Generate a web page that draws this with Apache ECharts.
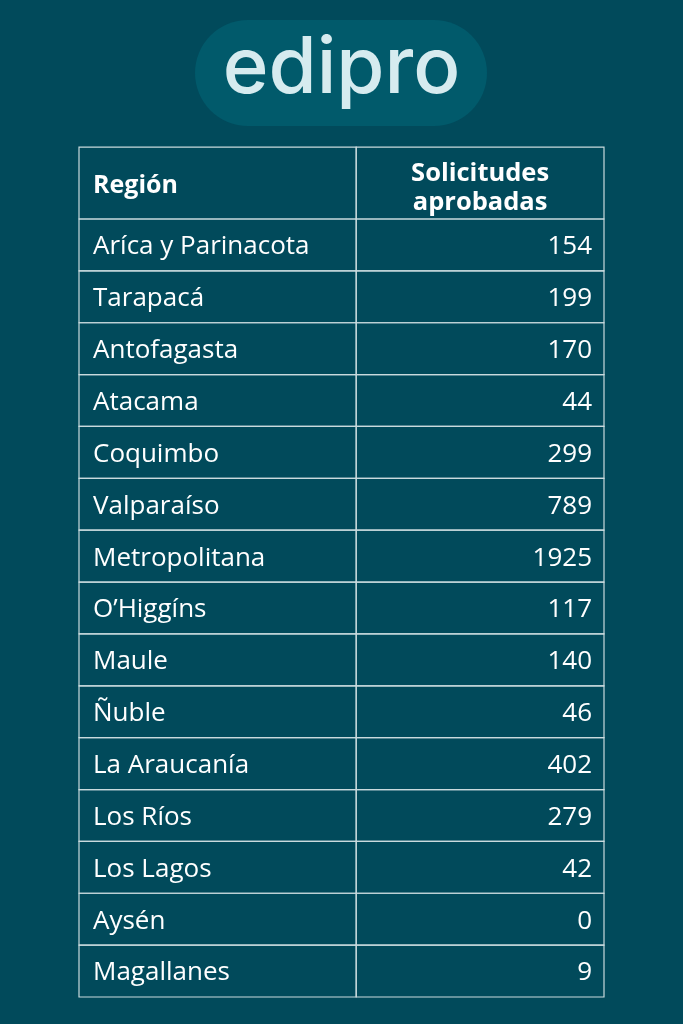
<!DOCTYPE html>
<html>
<head>
<meta charset="utf-8">
<script src="https://cdn.jsdelivr.net/npm/echarts@6/dist/echarts.min.js"></script>
<style>
html,body{margin:0;padding:0;background:#014a5b;}
#chart{width:683px;height:1024px;}
</style>
</head>
<body>
<div id="chart"></div>
<script>
const headerRegion = 'Región';
const headerValue = 'Solicitudes\naprobadas';
const regions = ['Aríca y Parinacota','Tarapacá','Antofagasta','Atacama','Coquimbo','Valparaíso','Metropolitana','O’Higgíns','Maule','Ñuble','La Araucanía','Los Ríos','Los Lagos','Aysén','Magallanes'];
const approved = [154,199,170,44,299,789,1925,117,140,46,402,279,42,0,9];

const BG = '#014a5b';
const LINE = '#c9dadd';
const TXT = '#ffffff';
const FONT = '"Open Sans", "Noto Sans", sans-serif';
const SPLIT = 0.528; // column divider as fraction of table width
const HEADER_RATIO = 72 / 51.9;

const chart = echarts.init(document.getElementById('chart'), null, {renderer: 'canvas'});

function renderItem(params, api) {
  const i = api.value(0);
  const c0 = api.coord([0, i]);
  const c1 = api.coord([1, i]);
  const band = api.size([0, 1])[1];
  const xL = c0[0], xR = c1[0];
  const xM = xL + (xR - xL) * SPLIT;
  const yT = c0[1] - band / 2;
  const children = [];
  const lineStyle = {stroke: LINE, lineWidth: 1.2, fill: null};
  children.push({type: 'rect', shape: {x: xL, y: yT, width: xM - xL, height: band}, style: lineStyle});
  children.push({type: 'rect', shape: {x: xM, y: yT, width: xR - xM, height: band}, style: lineStyle});
  children.push({type: 'text', style: {x: xL + 14, y: c0[1] + 2, text: regions[i], fill: TXT, font: '26px ' + FONT, textAlign: 'left', textVerticalAlign: 'middle'}});
  children.push({type: 'text', style: {x: xR - 12, y: c0[1] + 2, text: String(approved[i]), fill: TXT, font: '26px ' + FONT, textAlign: 'right', textVerticalAlign: 'middle'}});
  if (i === 0) {
    const hH = band * HEADER_RATIO;
    const hT = yT - hH;
    children.push({type: 'rect', shape: {x: xL, y: hT, width: xM - xL, height: hH}, style: lineStyle});
    children.push({type: 'rect', shape: {x: xM, y: hT, width: xR - xM, height: hH}, style: lineStyle});
    children.push({type: 'text', style: {x: xL + 14, y: hT + hH / 2 + 3, text: headerRegion, fill: TXT, font: 'bold 25px ' + FONT, textAlign: 'left', textVerticalAlign: 'middle'}});
    children.push({type: 'text', style: {x: (xM + xR) / 2, y: hT + hH / 2 + 5, text: headerValue, fill: TXT, font: 'bold 25.5px ' + FONT, lineHeight: 29, textAlign: 'center', textVerticalAlign: 'middle'}});
  }
  return {type: 'group', children: children};
}

chart.setOption({
  backgroundColor: BG,
  animation: false,
  grid: {left: 79, right: 79, top: 219, bottom: 27},
  xAxis: {type: 'value', min: 0, max: 1, show: false},
  yAxis: {type: 'category', data: regions, inverse: true, show: false},
  graphic: [
    {type: 'rect', left: 195, top: 20, shape: {width: 292, height: 106, r: 53}, style: {fill: '#015a6b'}},
    {type: 'text', left: 'center', top: 31, style: {text: 'edipro', font: '500 78px Inter, Lato, sans-serif', fill: '#d6ebef'}}
  ],
  series: [{
    type: 'custom',
    renderItem: renderItem,
    data: regions.map((r, i) => [i]),
    encode: {y: 0}
  }]
});
</script>
</body>
</html>
